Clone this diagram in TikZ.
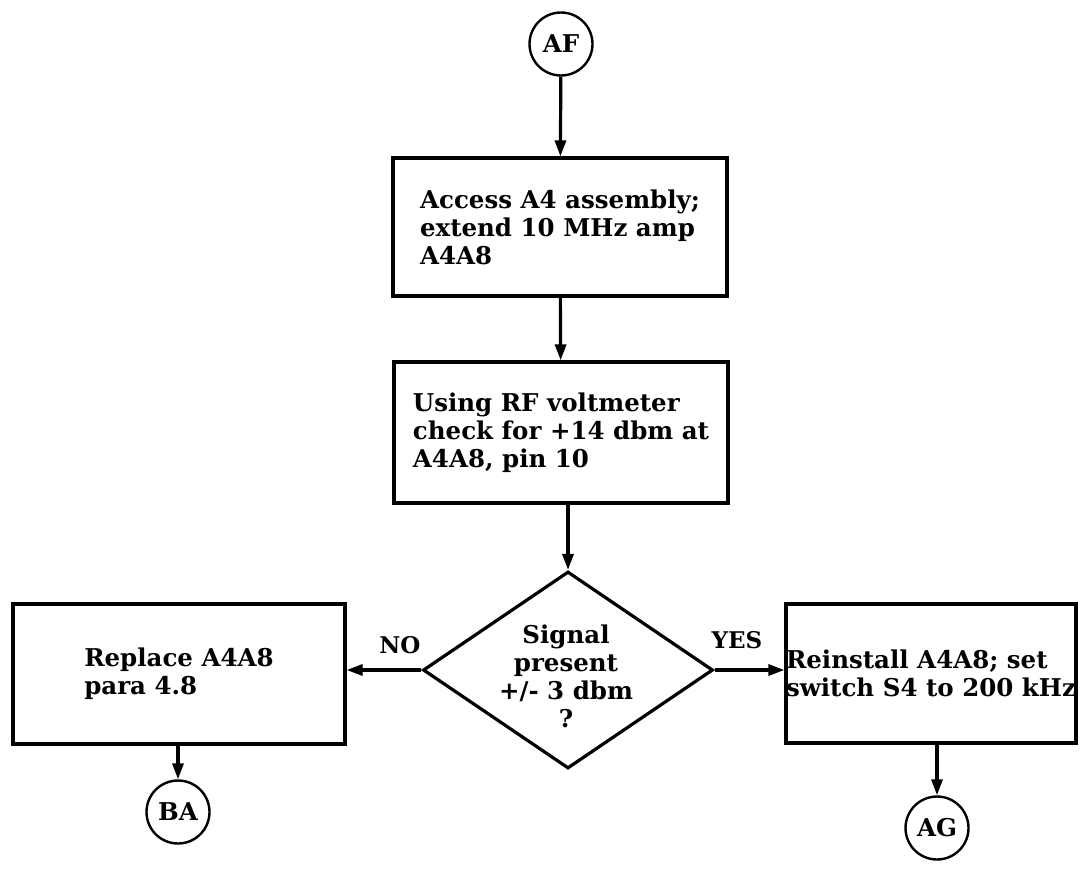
\documentclass[tikz,border=0pt]{standalone}
\usepackage{fontspec}
\setmainfont{DejaVu Serif}
\usetikzlibrary{shapes.geometric,arrows.meta}
\begin{document}
\begin{tikzpicture}[x=1pt,y=-1pt,
  every node/.style={font=\fontsize{24.5}{28}\selectfont\bfseries},
  procbox/.style={draw,line width=3.2pt,align=left,inner sep=0pt},
  conn/.style={draw,line width=2.4pt,minimum size=63pt,inner sep=0pt,circle},
  decis/.style={draw,line width=3.2pt,diamond,inner sep=0pt,minimum width=290pt,minimum height=197pt},
  flow/.style={line width=3.2pt,-{Triangle[length=16pt,width=11pt]}},
  lbl/.style={inner sep=0pt,font=\fontsize{23}{26}\selectfont\bfseries}]
\useasboundingbox (0,0) rectangle (1083,875);
\node[conn] (af) at (561,44) {AF};
\node[procbox,minimum width=334pt,minimum height=138pt] (b1) at (560,227)
  {Access A4 assembly;\\extend 10 MHz amp\\A4A8};
\node[procbox,minimum width=334pt,minimum height=141pt] (b2) at (561,432.5)
  {Using RF voltmeter\\check for +14 dbm at\\A4A8, pin 10};
\node[decis] (dia) at (568,670) {};
\node[align=center,inner sep=0pt] (dtext) at (566,676) {Signal\\present\\+/- 3 dbm\\?};
\node[procbox,minimum width=332pt,minimum height=140pt] (lb) at (179,674)
  {Replace A4A8\\para 4.8};
\node[procbox,minimum width=290pt,minimum height=139pt] (rb) at (931,673.5)
  {Reinstall A4A8; set\\switch S4 to 200 kHz};
\node[conn] (ba) at (178,812) {BA};
\node[conn] (ag) at (937,828) {AG};
\node[lbl] (no) at (400,645) {NO};
\node[lbl] (yes) at (737,640) {YES};
\draw[flow] (af) -- (b1);
\draw[flow] (b1) -- (b2);
\draw[flow] (b2.south -| dia.north) -- (dia.north);
\draw[flow] (dia.west) -- (dia.west -| lb.east);
\draw[flow] (dia.east) -- (dia.east -| rb.west);
\draw[flow] (lb.south -| ba.north) -- (ba.north);
\draw[flow] (rb.south -| ag.north) -- (ag.north);
\end{tikzpicture}
\end{document}
